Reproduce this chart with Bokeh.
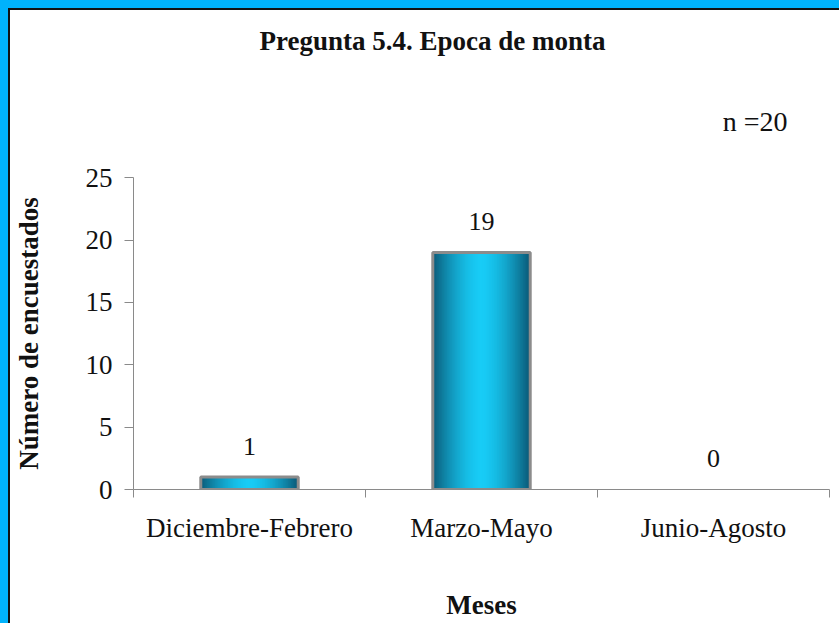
import numpy as np
from bokeh.plotting import figure
from bokeh.models import Range1d, FixedTicker, Label
from bokeh.embed import file_html
from bokeh.resources import INLINE
from bokeh.core.properties import value

# ---- data ----
categories = ["Diciembre-Febrero", "Marzo-Mayo", "Junio-Agosto"]
counts = [1, 19, 0]
y_ticks = [0, 5, 10, 15, 20, 25]
title_text = "Pregunta 5.4. Epoca de monta"
n_text = "n =20"
x_title = "Meses"
y_title = "Número de encuestados"

FONT = "Liberation Serif"
TXT = "#111111"
AX = "#8a8a8a"

positions = [i + 0.5 for i in range(len(categories))]
bar_w = 0.42
y_max_tick = max(y_ticks)

p = figure(width=829, height=613, output_backend="svg", toolbar_location=None,
           x_range=Range1d(0, len(categories)), y_range=Range1d(0, 33.68),
           min_border_left=122, min_border_right=20, min_border_top=56,
           min_border_bottom=144)
p.styles = {"box-sizing": "content-box", "overflow": "hidden",
            "border-left": "8px solid #00b2fb", "border-top": "8px solid #00b2fb",
            "padding-left": "2px", "padding-top": "2px",
            "box-shadow": "inset 2px 2px 0 0 #111111"}
p.outline_line_color = None
p.background_fill_color = "white"
p.border_fill_color = "white"
p.xgrid.visible = False
p.ygrid.visible = False

# title
p.title.text = title_text
p.title.text_font = FONT
p.title.text_font_size = "27px"
p.title.text_font_style = "bold"
p.title.text_color = TXT
p.title.align = "left"
p.title.offset = 126
p.title.standoff = 27

# gradient bars (vertical strips)
edge = np.array([0x0a, 0x58, 0x76], dtype=float)
mid = np.array([0x18, 0xcc, 0xf6], dtype=float)
N = 60
sx, stop, scol = [], [], []
for pos, c in zip(positions, counts):
    for k in range(N):
        t = (k + 0.5) / N
        d = abs(t - 0.5) * 2
        f = d ** 1.6
        col = mid * (1 - f) + edge * f
        sx.append(pos - bar_w / 2 + t * bar_w)
        stop.append(c)
        scol.append("#%02x%02x%02x" % tuple(int(round(v)) for v in col))
p.vbar(x=sx, top=stop, width=bar_w / N * 1.6, fill_color=scol, line_color=None)
p.vbar(x=positions, top=counts, width=bar_w, fill_color=None,
       line_color="#8c8c8c", line_width=3,
       line_alpha=[1 if c > 0 else 0 for c in counts])

# value labels
p.text(x=positions, y=counts, text=[str(c) for c in counts],
       text_align="center", text_baseline="alphabetic", y_offset=-31,
       text_font=value(FONT), text_font_size="26px", text_color=TXT)

# n label
p.add_layout(Label(x=2.54, y=29.5, text=n_text, text_font=FONT,
                   text_font_size="28px", text_color=TXT,
                   text_baseline="middle", text_align="left"))

# x axis
xa = p.xaxis[0]
xa.ticker = FixedTicker(ticks=positions, minor_ticks=list(range(len(categories) + 1)))
xa.major_label_overrides = {pos: cat for pos, cat in zip(positions, categories)}
xa.bounds = (0, len(categories))
xa.major_tick_out = 8
xa.major_tick_in = 0
xa.major_tick_line_color = None
xa.minor_tick_out = 8
xa.minor_tick_in = 0
xa.minor_tick_line_color = AX
xa.axis_line_color = AX
xa.major_label_standoff = 15
xa.major_label_text_font = FONT
xa.major_label_text_font_size = "27px"
xa.major_label_text_color = TXT
xa.axis_label = x_title
xa.axis_label_text_font = FONT
xa.axis_label_text_font_size = "27px"
xa.axis_label_text_font_style = "bold"
xa.axis_label_text_color = TXT
xa.axis_label_standoff = 44

# y axis (title padded with no-break spaces so it centres on the 0-25 span)
ya = p.yaxis[0]
ya.ticker = FixedTicker(ticks=y_ticks)
ya.bounds = (0, y_max_tick)
ya.major_tick_out = 9
ya.major_tick_in = 0
ya.major_tick_line_color = AX
ya.minor_tick_line_color = None
ya.axis_line_color = AX
ya.major_label_standoff = 12
ya.major_label_text_font = FONT
ya.major_label_text_font_size = "27px"
ya.major_label_text_color = TXT
ya.axis_label = y_title + "\u00a0" * 16
ya.axis_label_text_font = FONT
ya.axis_label_text_font_size = "27px"
ya.axis_label_text_font_style = "bold"
ya.axis_label_text_color = TXT
ya.axis_label_standoff = 39

open("out.html", "w").write(file_html(p, INLINE))
